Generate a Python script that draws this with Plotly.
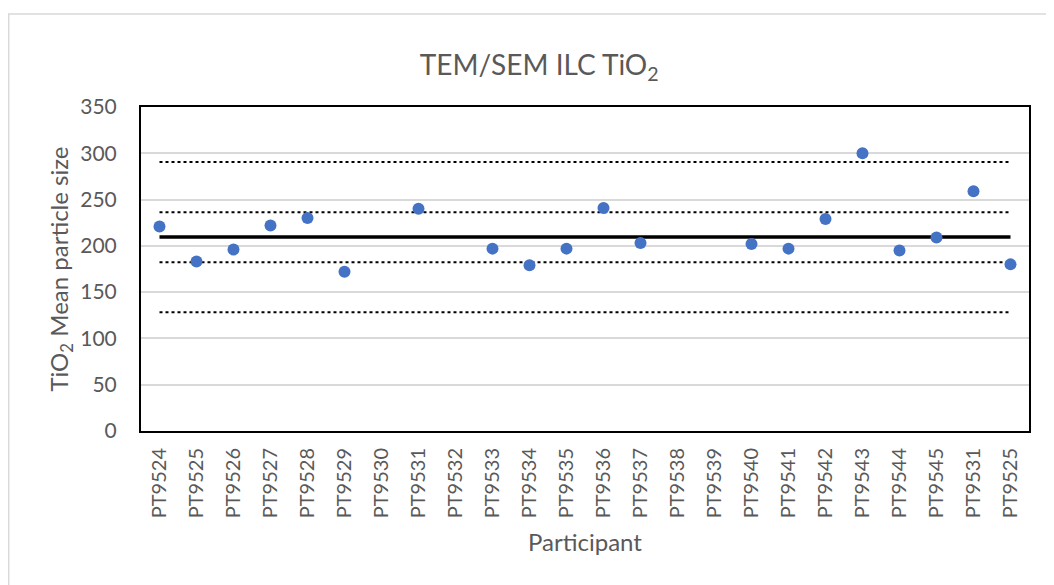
import plotly.graph_objects as go

# participantes en el orden del gráfico original (hay códigos repetidos)
participantes = [
    "PT9524", "PT9525", "PT9526", "PT9527", "PT9528", "PT9529", "PT9530", "PT9531",
    "PT9532", "PT9533", "PT9534", "PT9535", "PT9536", "PT9537", "PT9538", "PT9539",
    "PT9540", "PT9541", "PT9542", "PT9543", "PT9544", "PT9545", "PT9531", "PT9525",
]
tamano_medio = [
    221, 183, 196, 222, 230, 172, None, 240,
    None, 197, 179, 197, 241, 203, None, None,
    202, 197, 229, 300, 195, 209, 259, 180,
]

valor_asignado = 209.5
limites_1s = [182.3, 236.3]
limites_3s = [128.2, 290.6]

y_ticks = [0, 50, 100, 150, 200, 250, 300, 350]

GRIS = "#595959"
FUENTE = "Lato"

idx = list(range(len(participantes)))
extremos = [idx[0], idx[-1]]

fig = go.Figure()

for nivel in limites_3s + limites_1s:
    fig.add_trace(go.Scatter(
        x=extremos, y=[nivel, nivel], mode="lines",
        line=dict(color="black", width=2, dash="dot"),
        hoverinfo="skip",
    ))

fig.add_trace(go.Scatter(
    x=extremos, y=[valor_asignado, valor_asignado], mode="lines",
    line=dict(color="black", width=3.5),
    hoverinfo="skip",
))

fig.add_trace(go.Scatter(
    x=idx, y=tamano_medio, mode="markers",
    marker=dict(color="#4472C4", size=12),
    name="TiO2",
))

# marco exterior del área del gráfico (estilo Excel)
fig.add_shape(
    type="rect", xref="paper", yref="paper",
    x0=-0.149, x1=1.1, y0=-0.7, y1=1.287,
    line=dict(color="#d9d9d9", width=1.5), layer="below",
)

fig.update_layout(
    width=1054, height=585,
    margin=dict(l=133, r=33, t=99, b=162),
    paper_bgcolor="white", plot_bgcolor="white",
    showlegend=False,
    font=dict(family=FUENTE, color=GRIS, size=21),
    title=dict(
        text="TEM/SEM ILC TiO<sub>2</sub>",
        x=0.504, xref="container", xanchor="center",
        y=0.9026, yref="container", yanchor="middle",
        font=dict(family=FUENTE, size=28, color=GRIS),
    ),
)

fig.update_xaxes(
    range=[-0.5, len(participantes) - 0.5],
    tickvals=idx, ticktext=participantes, tickangle=-90,
    ticks="outside", ticklen=7, tickcolor="rgba(0,0,0,0)",
    tickfont=dict(size=20, color=GRIS),
    showgrid=False, zeroline=False,
    showline=True, linecolor="black", linewidth=2, mirror=True,
    title=dict(text="Participant", font=dict(size=24, color=GRIS), standoff=17),
)

fig.update_yaxes(
    range=[0, 350], tickvals=y_ticks,
    ticks="outside", ticklen=18, tickcolor="rgba(0,0,0,0)",
    tickfont=dict(size=21, color=GRIS),
    showgrid=True, gridcolor="#d9d9d9", gridwidth=1.5, zeroline=False,
    showline=True, linecolor="black", linewidth=2, mirror=True,
    title=dict(text="TiO<sub>2</sub> Mean particle size",
               font=dict(size=24, color=GRIS), standoff=5),
)

fig.write_html("out.html")
